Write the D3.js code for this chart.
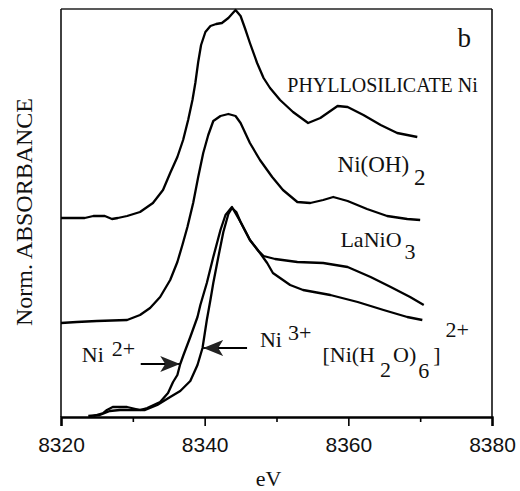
<!DOCTYPE html>
<html><head><meta charset="utf-8">
<script src="https://cdn.jsdelivr.net/npm/d3@7"></script>
<style>body{margin:0;background:#fff}svg{display:block}</style>
</head><body><svg id="c" width="520" height="491"></svg>
<script>
// Ni K-edge XANES, normalized absorbance (offset spectra)
const phyllosilicate = [[8320.0,1.99],[8323.3,1.99],[8324.5,2.01],[8326.1,2.01],[8327.1,1.98],[8327.9,1.99],[8329.2,2.01],[8331.0,2.05],[8332.8,2.14],[8334.2,2.27],[8335.2,2.44],[8336.2,2.60],[8337.0,2.77],[8337.7,2.97],[8338.3,3.17],[8338.7,3.34],[8339.1,3.55],[8339.5,3.72],[8340.1,3.85],[8340.8,3.91],[8341.6,3.93],[8342.4,3.94],[8343.3,3.99],[8344.3,4.07],[8345.0,4.01],[8345.6,3.89],[8346.3,3.74],[8347.3,3.54],[8348.2,3.39],[8349.1,3.29],[8350.5,3.17],[8352.3,3.05],[8354.4,2.94],[8356.1,2.99],[8358.5,3.11],[8359.9,3.10],[8362.1,3.02],[8364.5,2.92],[8366.8,2.84],[8368.2,2.82],[8369.6,2.80]];
const niOH2 = [[8320.0,0.94],[8322.2,0.95],[8325.0,0.96],[8329.2,0.97],[8331.0,1.02],[8332.4,1.09],[8333.8,1.20],[8335.2,1.37],[8336.2,1.55],[8336.9,1.72],[8337.6,1.90],[8338.4,2.14],[8339.1,2.40],[8339.8,2.64],[8340.5,2.82],[8341.2,2.96],[8342.2,3.01],[8343.3,3.03],[8344.3,3.01],[8345.0,2.94],[8346.3,2.74],[8347.7,2.57],[8349.4,2.40],[8350.9,2.27],[8352.9,2.15],[8354.7,2.14],[8356.5,2.17],[8357.9,2.20],[8359.9,2.16],[8362.6,2.08],[8365.4,2.01],[8368.2,1.98],[8370.0,1.97]];
const laNiO3 = [[8323.8,0.01],[8325.4,0.02],[8326.8,0.06],[8328.2,0.07],[8330.3,0.07],[8331.7,0.07],[8333.4,0.12],[8335.2,0.20],[8336.6,0.26],[8338.0,0.36],[8339.0,0.52],[8339.7,0.69],[8340.3,0.97],[8340.8,1.17],[8341.2,1.34],[8341.9,1.60],[8342.6,1.85],[8343.3,2.03],[8343.8,2.09],[8344.4,2.05],[8345.0,1.95],[8346.3,1.77],[8347.5,1.66],[8348.2,1.61],[8349.8,1.58],[8352.9,1.55],[8356.5,1.54],[8359.9,1.50],[8363.1,1.40],[8365.9,1.30],[8368.6,1.20],[8370.5,1.12]];
const niH2O6 = [[8324.5,0.01],[8325.9,0.04],[8326.4,0.07],[8327.2,0.10],[8329.2,0.10],[8331.0,0.07],[8332.0,0.09],[8333.8,0.15],[8334.9,0.24],[8335.6,0.35],[8336.2,0.42],[8336.6,0.53],[8337.0,0.61],[8338.0,0.80],[8339.0,1.00],[8339.4,1.12],[8340.3,1.34],[8341.2,1.60],[8342.2,1.87],[8342.9,2.02],[8343.8,2.10],[8345.0,1.95],[8346.3,1.77],[8347.7,1.64],[8348.7,1.54],[8349.5,1.44],[8351.9,1.32],[8353.7,1.27],[8357.5,1.22],[8361.3,1.15],[8364.9,1.07],[8368.2,1.00],[8370.3,0.97]];
const series = [phyllosilicate, niOH2, laNiO3, niH2O6];
const majorTicks = [8320, 8340, 8360, 8380];
const minorTicks = [8330, 8350, 8370];
const xLabel = "eV";
const yLabel = "Norm. ABSORBANCE";
const panelLabel = {text: "b", x: 8375.2, y: 3.70};
// arrows: [from eV, to eV, level]
const arrows = [[8331.1, 8336.6, 0.53], [8345.9, 8339.8, 0.69]];

const W = 520, H = 491, m = {l: 61, r: 28, t: 9, b: 74};
const svg = d3.select("#c");
const x = d3.scaleLinear().domain([8320, 8380]).range([m.l, W - m.r]);
const y = d3.scaleLinear().domain([0, 4.08]).range([H - m.b, m.t]);
const serif = "'Liberation Serif', 'Times New Roman', serif";

// frame
const g = svg.append("g");
g.append("line").attr("x1", x(8320)).attr("x2", x(8380)).attr("y1", y(4.08)).attr("y2", y(4.08)).attr("stroke", "#222").attr("stroke-width", 1.3);
g.append("line").attr("x1", x(8380)).attr("x2", x(8380)).attr("y1", y(4.08)).attr("y2", y(0)).attr("stroke", "#111").attr("stroke-width", 1.6);
g.append("line").attr("x1", x(8320)).attr("x2", x(8320)).attr("y1", y(4.08)).attr("y2", y(0)).attr("stroke", "#111").attr("stroke-width", 1.6);

const ax = svg.append("g").attr("transform", `translate(0,${y(0)})`)
  .call(d3.axisBottom(x).tickValues(majorTicks).tickFormat(d3.format("d")).tickSize(9).tickPadding(11));
ax.select(".domain").attr("stroke-width", 2.4).attr("stroke", "#000");
ax.selectAll(".tick line").attr("stroke-width", 1.6);
ax.selectAll("text").attr("font-family", "'Liberation Sans', Arial, sans-serif").attr("font-size", 21).attr("fill", "#111");
svg.append("g").attr("transform", `translate(0,${y(0)})`)
  .call(d3.axisBottom(x).tickValues(minorTicks).tickFormat("").tickSize(5))
  .call(s => { s.select(".domain").remove(); s.selectAll(".tick line").attr("stroke-width", 1.6); });

// curves
const line = d3.line().x(d => x(d[0])).y(d => y(d[1]));
svg.append("g").selectAll("path").data(series).join("path")
  .attr("d", line).attr("fill", "none").attr("stroke", "#000").attr("stroke-width", 2.3).attr("stroke-linejoin", "round");

// arrows
const defs = svg.append("defs");
defs.append("marker").attr("id", "ah").attr("viewBox", "0 0 20 16").attr("refX", 20).attr("refY", 8)
  .attr("markerWidth", 20).attr("markerHeight", 16).attr("markerUnits", "userSpaceOnUse").attr("orient", "auto")
  .append("path").attr("d", "M0,0 L20,8 L0,16 L5,8 Z").attr("fill", "#222");
svg.append("g").selectAll("line").data(arrows).join("line")
  .attr("x1", d => x(d[0])).attr("x2", d => x(d[1])).attr("y1", d => y(d[2])).attr("y2", d => y(d[2]))
  .attr("stroke", "#000").attr("stroke-width", 2).attr("marker-end", "url(#ah)");

// labels
function txt(ev, a, size) {
  return svg.append("text").attr("x", x(ev)).attr("y", y(a)).attr("font-family", serif).attr("font-size", size).attr("fill", "#111");
}
txt(panelLabel.x, panelLabel.y, 27).text(panelLabel.text);
txt(8351.5, 3.25, 20).text("PHYLLOSILICATE Ni");
const t1 = txt(8358.5, 2.45, 23); t1.append("tspan").text("Ni(OH)"); t1.append("tspan").attr("dx", 5).attr("dy", 13).text("2");
const t2 = txt(8358.9, 1.70, 22); t2.append("tspan").text("LaNiO"); t2.append("tspan").attr("dx", 3).attr("dy", 12).text("3");
const t3 = txt(8322.9, 0.55, 22); t3.append("tspan").text("Ni"); t3.append("tspan").attr("dx", 8).attr("dy", -6).text("2+");
const t4 = txt(8347.7, 0.70, 22); t4.append("tspan").text("Ni"); t4.append("tspan").attr("dx", 6).attr("dy", -7).text("3+");
const t5 = txt(8356.4, 0.55, 22);
t5.append("tspan").text("[Ni(H");
t5.append("tspan").attr("dx", 5).attr("dy", 15).text("2");
t5.append("tspan").attr("dx", 2).attr("dy", -15).text("O)");
t5.append("tspan").attr("dx", 2).attr("dy", 16).text("6");
t5.append("tspan").attr("dx", 4).attr("dy", -16).text("]");
t5.append("tspan").attr("dx", 5).attr("dy", -25).text("2+");

svg.append("text").attr("x", x(8348.9)).attr("y", 486).attr("text-anchor", "middle")
  .attr("font-family", serif).attr("font-size", 22).attr("fill", "#111").text(xLabel);
svg.append("text").attr("transform", `translate(32,${y(2.05)}) rotate(-90)`).attr("text-anchor", "middle")
  .attr("font-family", serif).attr("font-size", 24).attr("fill", "#111").text(yLabel);
</script></body></html>
